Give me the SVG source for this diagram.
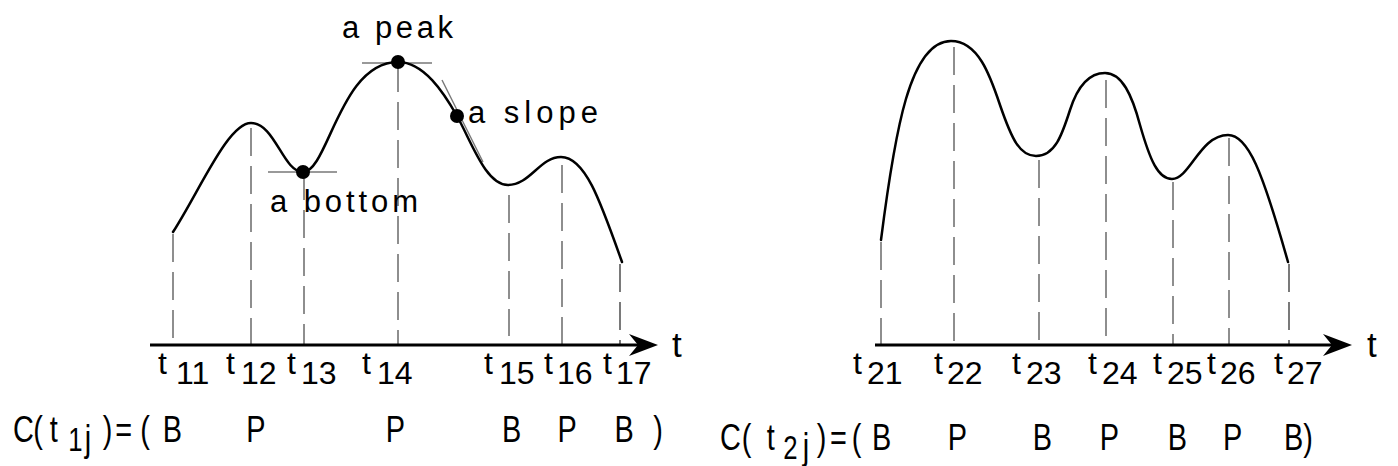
<svg xmlns="http://www.w3.org/2000/svg" width="1398" height="466" viewBox="0 0 1398 466">
<style>
.curve{fill:none;stroke:#000;stroke-width:2.5;stroke-linecap:round;stroke-linejoin:round}
.axis{stroke:#000;stroke-width:3}
.head{fill:#000}
.dash{stroke:#6a6a6a;stroke-width:1.5;stroke-dasharray:28 10}
.dashdk{stroke:#222;stroke-width:1.2;stroke-dasharray:28 10}
.tan{stroke:#777;stroke-width:1.4}
.dot{fill:#000}
text{font-family:"Liberation Sans",Arial,sans-serif;fill:#000}
.lbl{font-size:32px}
.axl{font-size:35px}
.ann{font-size:31px}
.row{font-size:37px}
</style>
<rect width="1398" height="466" fill="#fff"/>

<g id="left-chart">
  <g id="left-connectors">
    <line class="dash" x1="173" y1="234" x2="173" y2="345"/>
    <line class="dash" x1="251" y1="128" x2="251" y2="345"/>
    <line class="dash" x1="304" y1="172" x2="304" y2="345"/>
    <line class="dash" x1="398" y1="64" x2="398" y2="345"/>
    <line class="dash" x1="509" y1="195" x2="509" y2="336"/>
    <line class="dash" x1="562" y1="165" x2="562" y2="345"/>
    <line class="dashdk" x1="620" y1="264" x2="620" y2="345"/>
    <line class="tan" x1="268" y1="172" x2="337" y2="172"/>
    <line class="tan" x1="362" y1="63" x2="432" y2="63"/>
    <line class="tan" x1="442" y1="80" x2="483" y2="162"/>
    <line class="axis" x1="150" y1="345" x2="645" y2="345"/>
    <path class="head" d="M658,345 L629,334 L638,345 L629,356 Z"/>
  </g>
  <path id="left-curve" class="curve" d="M173,232 C200,190 228,123 251,123 C275,123 283,172 303,172 C328,172 340,62 398,62 C424,62 444,93 457,116 C472,143 486,185 508,185 C530,185 540,157 561,157 C585,157 600,200 622,262"/>
  <g id="bottom-point"><circle class="dot" cx="303" cy="172" r="7"/><text class="ann" x="270" y="212" textLength="148" lengthAdjust="spacing">a bottom</text></g>
  <g id="peak-point"><circle class="dot" cx="398" cy="62" r="7"/><text class="ann" x="342" y="38" textLength="111" lengthAdjust="spacing">a peak</text></g>
  <g id="slope-point"><circle class="dot" cx="457" cy="116" r="7"/><text class="ann" x="468" y="123" textLength="130" lengthAdjust="spacing">a slope</text></g>
  <g id="left-labels" class="lbl">
    <text x="158" y="374">t<tspan x="176" dy="10">11</tspan></text>
    <text x="226" y="374">t<tspan x="241" dy="10">12</tspan></text>
    <text x="287" y="374">t<tspan x="301" dy="10">13</tspan></text>
    <text x="362" y="374">t<tspan x="377" dy="10">14</tspan></text>
    <text x="484" y="374">t<tspan x="499" dy="10">15</tspan></text>
    <text x="544" y="374">t<tspan x="557" dy="10">16</tspan></text>
    <text x="603" y="374">t<tspan x="616" dy="10">17</tspan></text>
    <text class="axl" x="672" y="357">t</text>
  </g>
  <text id="left-row" class="row" transform="translate(13,442) scale(0.78,1)" x="0" y="0">C<tspan x="26">(</tspan><tspan x="47">t</tspan><tspan x="71" dy="9" font-size="33">1</tspan><tspan x="92">j</tspan><tspan x="115" dy="-9">)</tspan><tspan x="131">=</tspan><tspan x="163">(</tspan><tspan x="192">B</tspan><tspan x="299">P</tspan><tspan x="478">P</tspan><tspan x="627">B</tspan><tspan x="698">P</tspan><tspan x="771">B</tspan><tspan x="821">)</tspan></text>
</g>

<g id="right-chart">
  <g id="right-connectors">
    <line class="dash" x1="881" y1="242" x2="881" y2="345"/>
    <line class="dash" x1="954" y1="47" x2="954" y2="345"/>
    <line class="dash" x1="1039" y1="160" x2="1039" y2="345"/>
    <line class="dash" x1="1106" y1="80" x2="1106" y2="345"/>
    <line class="dash" x1="1173" y1="182" x2="1173" y2="345"/>
    <line class="dash" x1="1229" y1="138" x2="1229" y2="345"/>
    <line class="dashdk" x1="1289" y1="264" x2="1289" y2="345"/>
    <line class="axis" x1="875" y1="345" x2="1340" y2="345"/>
    <path class="head" d="M1352,345 L1323,334 L1332,345 L1323,356 Z"/>
  </g>
  <path id="right-curve" class="curve" d="M881,240 C895,130 910,41 951,41 C978,41 990,75 1000,105 C1012,140 1020,156 1036,156 C1055,156 1062,135 1070,110 C1078,85 1090,73 1105,73 C1122,73 1132,95 1140,125 C1150,160 1158,179 1172,179 C1190,179 1200,135 1228,135 C1248,135 1262,170 1288,262"/>
  <g id="right-labels" class="lbl">
    <text x="853" y="374">t<tspan x="867" dy="10">21</tspan></text>
    <text x="934" y="374">t<tspan x="947" dy="10">22</tspan></text>
    <text x="1012" y="374">t<tspan x="1026" dy="10">23</tspan></text>
    <text x="1088" y="374">t<tspan x="1102" dy="10">24</tspan></text>
    <text x="1153" y="374">t<tspan x="1167" dy="10">25</tspan></text>
    <text x="1207" y="374">t<tspan x="1220" dy="10">26</tspan></text>
    <text x="1274" y="374">t<tspan x="1287" dy="10">27</tspan></text>
    <text class="axl" x="1367" y="357">t</text>
  </g>
  <text id="right-row" class="row" transform="translate(720,450) scale(0.78,1)" x="0" y="0">C<tspan x="28">(</tspan><tspan x="60">t</tspan><tspan x="81" dy="9" font-size="33">2</tspan><tspan x="106">j</tspan><tspan x="124" dy="-9">)</tspan><tspan x="141">=</tspan><tspan x="169">(</tspan><tspan x="195">B</tspan><tspan x="292">P</tspan><tspan x="401">B</tspan><tspan x="487">P</tspan><tspan x="574">B</tspan><tspan x="645">P</tspan><tspan x="723">B)</tspan></text>
</g>
</svg>
